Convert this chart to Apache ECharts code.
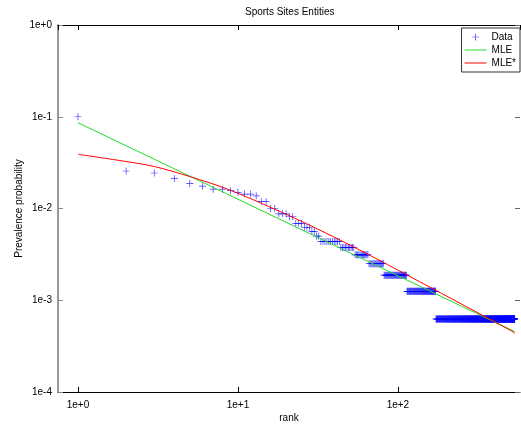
<!DOCTYPE html>
<html>
<head>
<meta charset="utf-8">
<script src="https://cdn.jsdelivr.net/npm/echarts@6/dist/echarts.min.js"></script>
<style>html,body{margin:0;padding:0;background:#fff;}#c{width:521px;height:425px;}</style>
</head>
<body>
<div id="c"></div>
<script>
// ---- data ----
const titleText = 'Sports Sites Entities';
const xName = 'rank';
const yName = 'Prevalence probability';
const seriesNames = ['Data', 'MLE', 'MLE*'];
const totalCount = 1600;
// counts for ranks 1..32
const headCounts = [160,41,39,34,30,28,26,26,25,24,23,23,22,19,19,16,16,14,14,14,13,13,11,11,11,10,10,10,9,9,8,8];
// plateaus after rank 32: count value and how many consecutive ranks share it
const plateauCounts  = [7, 6, 5, 4, 3, 2, 1];
const plateauLengths = [11, 10, 12, 16, 32, 59, 366];
// fitted curves (rank, probability)
const mleRanks = [1, 538];
const mleProb  = [0.0861, 0.000455];
const mleStarRanks = [1, 2, 3, 5, 8.9, 22.7, 54, 137, 501, 538];
const mleStarProb  = [0.0390, 0.0325, 0.0287, 0.0223, 0.0159, 0.00782, 0.00374, 0.00159, 0.000474, 0.000438];
const xTicks = ['1e+0', '1e+1', '1e+2'];
const yTicks = ['1e-4', '1e-3', '1e-2', '1e-1', '1e+0'];

// ---- build series data ----
const counts = headCounts.slice();
plateauCounts.forEach((c, i) => { for (let k = 0; k < plateauLengths[i]; k++) counts.push(c); });
const dataPts = counts.map((c, i) => [i + 1, c / totalCount]);
const mlePts = mleRanks.map((r, i) => [r, mleProb[i]]);
const mleStarPts = mleStarRanks.map((r, i) => [r, mleStarProb[i]]);

const FONT = 'Liberation Sans, Arial, sans-serif';
function fmt(v) {
  const l = Math.log10(v);
  const e = Math.round(l);
  if (Math.abs(l - e) > 1e-6) return '';
  const s = '1e' + (e >= 0 ? '+' : '') + e;
  return (xTicks.indexOf(s) >= 0 || yTicks.indexOf(s) >= 0) ? s : '';
}
const plus = 'path://M0,4.5 H10 V5.5 H0 Z M4.5,0 H5.5 V10 H4.5 Z';
const lineIcon = 'path://M0,0 H22 V1 H0 Z';

const chart = echarts.init(document.getElementById('c'), null, {renderer: 'canvas'});
chart.setOption({
  animation: false,
  backgroundColor: '#fff',
  title: {
    text: titleText, left: 245, top: 7, padding: 0,
    textStyle: {fontSize: 10, fontWeight: 'normal', color: '#000', fontFamily: FONT}
  },
  legend: {
    orient: 'vertical', right: 1, top: 28,
    backgroundColor: '#fff', borderColor: '#333', borderWidth: 1, borderRadius: 0,
    padding: [4, 4, 4, 3], itemWidth: 22, itemHeight: 7, itemGap: 3,
    textStyle: {fontSize: 10, color: '#000', fontFamily: FONT},
    data: [
      {name: seriesNames[0], icon: plus},
      {name: seriesNames[1], icon: lineIcon},
      {name: seriesNames[2], icon: lineIcon}
    ]
  },
  grid: {left: 58, right: 1, top: 25, bottom: 33, containLabel: false, outerBoundsMode: 'none'},
  xAxis: [
    {
      type: 'log', min: 0.75, max: 580, position: 'bottom',
      name: xName, nameLocation: 'middle', nameGap: 21, nameMoveOverlap: false,
      nameTextStyle: {fontSize: 10, color: '#000', fontFamily: FONT},
      axisLine: {show: true, lineStyle: {color: '#000', width: 1}},
      axisTick: {show: true, inside: true, length: 5, lineStyle: {color: '#000'}},
      minorTick: {show: false},
      axisLabel: {formatter: fmt, showMinLabel: false, showMaxLabel: false, margin: 8, fontSize: 10, color: '#000', fontFamily: FONT},
      splitLine: {show: false}
    },
    {
      type: 'log', min: 0.75, max: 580, position: 'top',
      axisLine: {show: true, lineStyle: {color: '#000', width: 1}},
      axisTick: {show: true, inside: true, length: 5, lineStyle: {color: '#000'}},
      axisLabel: {show: false},
      splitLine: {show: false}
    }
  ],
  yAxis: [
    {
      type: 'log', min: 0.0001, max: 1, position: 'left',
      name: yName, nameLocation: 'middle', nameGap: 34, nameRotate: 90, nameMoveOverlap: false,
      nameTextStyle: {fontSize: 10, color: '#000', fontFamily: FONT},
      axisLine: {show: true, lineStyle: {color: '#999', width: 2}},
      axisTick: {show: true, inside: true, length: 5, lineStyle: {color: '#888'}},
      axisLabel: {formatter: fmt, margin: 6, fontSize: 10, color: '#000', fontFamily: FONT},
      splitLine: {show: false}
    },
    {
      type: 'log', min: 0.0001, max: 1, position: 'right',
      axisLine: {show: false},
      axisTick: {show: true, inside: true, length: 5, lineStyle: {color: '#666'}},
      axisLabel: {show: false},
      splitLine: {show: false}
    }
  ],
  series: [
    {
      name: seriesNames[0], type: 'scatter', data: dataPts,
      symbol: plus, symbolSize: 7,
      itemStyle: {color: '#0000ff', opacity: 0.8},
      xAxisIndex: 0, yAxisIndex: 0
    },
    {
      name: seriesNames[1], type: 'line', data: mlePts, symbol: 'none',
      lineStyle: {color: '#22dd22', width: 1}, itemStyle: {color: '#22dd22'},
      xAxisIndex: 0, yAxisIndex: 0
    },
    {
      name: seriesNames[2], type: 'line', data: mleStarPts, symbol: 'none', smooth: 0.3,
      lineStyle: {color: '#ff0000', width: 1}, itemStyle: {color: '#ff0000'},
      xAxisIndex: 0, yAxisIndex: 0
    }
  ]
});
</script>
</body>
</html>
